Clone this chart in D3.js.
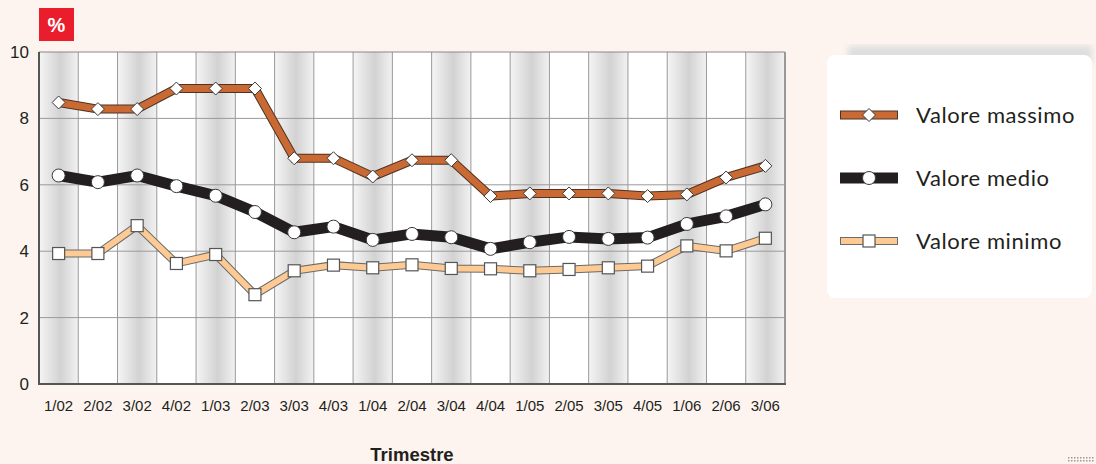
<!DOCTYPE html>
<html lang="it">
<head>
<meta charset="UTF-8">
<title>Valori trimestrali</title>
<script src="https://d3js.org/d3.v7.min.js"></script>
<style>
  body { margin: 0; background: #fdf4ef; }
  svg { display: block; }
</style>
</head>
<body>
<script>
// quarters on the x axis
var trimestri = ["1/02","2/02","3/02","4/02","1/03","2/03","3/03","4/03","1/04","2/04",
                 "3/04","4/04","1/05","2/05","3/05","4/05","1/06","2/06","3/06"];
// values (%)
var valoreMassimo = [8.48, 8.28, 8.28, 8.9, 8.9, 8.9, 6.8, 6.8, 6.25, 6.74,
                     6.74, 5.66, 5.74, 5.74, 5.74, 5.66, 5.71, 6.22, 6.57];
var valoreMedio   = [6.28, 6.08, 6.28, 5.96, 5.67, 5.18, 4.57, 4.74, 4.34, 4.52,
                     4.42, 4.07, 4.27, 4.43, 4.37, 4.41, 4.82, 5.05, 5.41];
var valoreMinimo  = [3.93, 3.93, 4.77, 3.63, 3.9, 2.69, 3.41, 3.58, 3.5, 3.59,
                     3.48, 3.47, 3.41, 3.45, 3.5, 3.55, 4.16, 4.01, 4.39];
var yTicks = [0, 2, 4, 6, 8, 10];

var W = 1096, H = 464;
var plot = {left: 39, right: 785, top: 52, bottom: 384};

var svg = d3.select("body").append("svg")
    .attr("width", W).attr("height", H);

svg.append("rect").attr("width", W).attr("height", H).attr("fill", "#fdf4ef");

var defs = svg.append("defs");
var grad = defs.append("linearGradient").attr("id", "colGrad")
    .attr("x1", "0%").attr("x2", "100%").attr("y1", "0%").attr("y2", "0%");
grad.append("stop").attr("offset", "0%").attr("stop-color", "#f5f5f5");
grad.append("stop").attr("offset", "55%").attr("stop-color", "#d2d2d2");
grad.append("stop").attr("offset", "100%").attr("stop-color", "#f2f2f2");
defs.append("filter").attr("id", "blur")
    .append("feGaussianBlur").attr("stdDeviation", 3);

var x = d3.scaleBand().domain(trimestri).range([plot.left, plot.right]);
var y = d3.scaleLinear().domain([0, 10]).range([plot.bottom, plot.top]);
var cx = function(d, i) { return x(trimestri[i]) + x.bandwidth() / 2; };

// plot background + shaded columns
svg.append("rect")
    .attr("x", plot.left).attr("y", plot.top)
    .attr("width", plot.right - plot.left).attr("height", plot.bottom - plot.top)
    .attr("fill", "#fff");
svg.selectAll(".col").data(trimestri.filter(function(d, i) { return i % 2 === 0; }))
  .enter().append("rect")
    .attr("x", function(d) { return x(d); })
    .attr("y", plot.top)
    .attr("width", x.bandwidth())
    .attr("height", plot.bottom - plot.top)
    .attr("fill", "url(#colGrad)");

// grid
svg.append("g").selectAll("line").data(trimestri.slice(1))
  .enter().append("line")
    .attr("x1", function(d) { return x(d); }).attr("x2", function(d) { return x(d); })
    .attr("y1", plot.top).attr("y2", plot.bottom)
    .attr("stroke", "#9a9a9a").attr("stroke-width", 1);
svg.append("g").selectAll("line").data(yTicks.slice(1, -1))
  .enter().append("line")
    .attr("x1", plot.left).attr("x2", plot.right)
    .attr("y1", function(d) { return y(d); }).attr("y2", function(d) { return y(d); })
    .attr("stroke", "#9a9a9a").attr("stroke-width", 1);

// frame
svg.append("line").attr("x1", plot.left).attr("x2", plot.right)
    .attr("y1", plot.top).attr("y2", plot.top).attr("stroke", "#888").attr("stroke-width", 1);
svg.append("line").attr("x1", plot.right).attr("x2", plot.right)
    .attr("y1", plot.top).attr("y2", plot.bottom).attr("stroke", "#999").attr("stroke-width", 2);
svg.append("line").attr("x1", plot.left).attr("x2", plot.left)
    .attr("y1", plot.top).attr("y2", plot.bottom + 1).attr("stroke", "#555").attr("stroke-width", 2);
svg.append("line").attr("x1", plot.left).attr("x2", plot.right + 1)
    .attr("y1", plot.bottom).attr("y2", plot.bottom).attr("stroke", "#555").attr("stroke-width", 2);

// y tick labels
svg.append("g").selectAll("text").data(yTicks)
  .enter().append("text")
    .attr("x", 29).attr("y", function(d) { return y(d); })
    .attr("dy", "0.35em").attr("text-anchor", "end")
    .attr("font-family", "Liberation Sans, Arial, sans-serif")
    .attr("font-size", 17).attr("fill", "#231f20")
    .text(function(d) { return d; });

// x tick labels
svg.append("g").selectAll("text").data(trimestri)
  .enter().append("text")
    .attr("x", function(d) { return x(d) + x.bandwidth() / 2; })
    .attr("y", 411).attr("text-anchor", "middle")
    .attr("font-family", "Liberation Sans, Arial, sans-serif")
    .attr("font-size", 15).attr("fill", "#231f20")
    .text(function(d) { return d; });

svg.append("text").attr("x", 412).attr("y", 461).attr("text-anchor", "middle")
    .attr("font-family", "Liberation Sans, Arial, sans-serif")
    .attr("font-size", 18.5).attr("font-weight", "bold").attr("fill", "#231f20")
    .text("Trimestre");

// % badge
svg.append("rect").attr("x", 39).attr("y", 8).attr("width", 35).attr("height", 33).attr("fill", "#ea1d2c");
svg.append("text").attr("x", 56.5).attr("y", 32).attr("text-anchor", "middle")
    .attr("font-family", "Liberation Sans, Arial, sans-serif")
    .attr("font-size", 20).attr("font-weight", "bold").attr("fill", "#fff").text("%");

// series styling
var series = [
  {name: "Valore massimo", values: valoreMassimo, color: "#c96a35", outline: "#4f3222", width: 7, marker: "diamond"},
  {name: "Valore medio",   values: valoreMedio,   color: "#231f20", outline: "#231f20", width: 9, marker: "circle"},
  {name: "Valore minimo",  values: valoreMinimo,  color: "#fdca94", outline: "#6a6a6a", width: 6, marker: "square"}
];

var line = d3.line().x(cx).y(function(d) { return y(d); });

function drawMarker(g, type, px, py) {
  if (type === "diamond") {
    g.append("path")
      .attr("d", "M" + px + "," + (py - 6.5) + "L" + (px + 6.5) + "," + py + "L" + px + "," + (py + 6.5) + "L" + (px - 6.5) + "," + py + "Z")
      .attr("fill", "#fff").attr("stroke", "#3a3a3a").attr("stroke-width", 1);
  } else if (type === "circle") {
    g.append("circle").attr("cx", px).attr("cy", py).attr("r", 6.5)
      .attr("fill", "#fff").attr("stroke", "#3a3a3a").attr("stroke-width", 1);
  } else {
    g.append("rect").attr("x", px - 6).attr("y", py - 6).attr("width", 12).attr("height", 12)
      .attr("fill", "#fff").attr("stroke", "#555").attr("stroke-width", 1.2);
  }
}

series.forEach(function(s) {
  var g = svg.append("g");
  g.append("path").attr("d", line(s.values)).attr("fill", "none")
    .attr("stroke", s.outline).attr("stroke-width", s.width + 2).attr("stroke-linejoin", "miter");
  g.append("path").attr("d", line(s.values)).attr("fill", "none")
    .attr("stroke", s.color).attr("stroke-width", s.width).attr("stroke-linejoin", "miter");
  s.values.forEach(function(v, i) { drawMarker(g, s.marker, cx(v, i), y(v)); });
});

// legend
svg.append("rect").attr("x", 848).attr("y", 46).attr("width", 244).attr("height", 18)
    .attr("fill", "#dedede").attr("filter", "url(#blur)");
svg.append("rect").attr("x", 827).attr("y", 55).attr("width", 265).attr("height", 243)
    .attr("rx", 8).attr("fill", "#fff");

var legendY = d3.scalePoint().domain(series.map(function(s) { return s.name; })).range([115, 241]);
series.forEach(function(s) {
  var ly = legendY(s.name);
  var g = svg.append("g");
  g.append("rect").attr("x", 840).attr("y", ly - s.width / 2 - 1)
    .attr("width", 58).attr("height", s.width + 2).attr("fill", s.outline);
  g.append("rect").attr("x", 841).attr("y", ly - s.width / 2)
    .attr("width", 56).attr("height", s.width).attr("fill", s.color);
  drawMarker(g, s.marker, 869, ly);
  g.append("text").attr("x", 916).attr("y", ly).attr("dy", "0.35em")
    .attr("font-family", "Lato, 'Noto Sans', sans-serif")
    .attr("font-size", 22).attr("letter-spacing", 0.6).attr("fill", "#231f20").text(s.name);
});

// small dotted mark bottom right
var dots = svg.append("g").attr("fill", "#9a9a9a");
d3.range(2).forEach(function(r) {
  d3.range(9).forEach(function(c) {
    dots.append("rect").attr("x", 1068 + c * 3).attr("y", 457 + r * 3)
      .attr("width", 1.5).attr("height", 1.5);
  });
});
</script>
</body>
</html>
